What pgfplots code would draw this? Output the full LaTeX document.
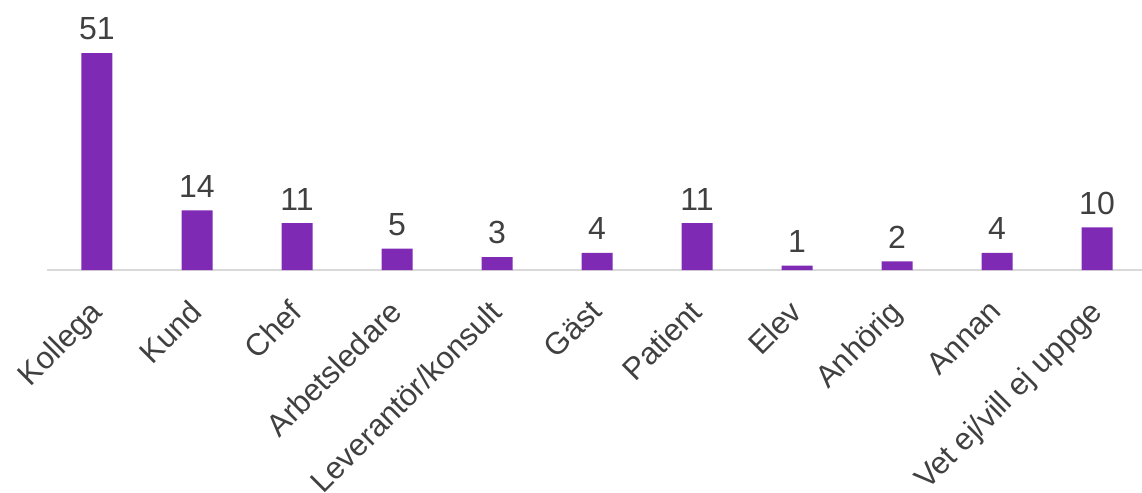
\documentclass[border=0pt]{standalone}
\usepackage{pgfplots}
\pgfplotsset{compat=1.18}
\usepackage{fontspec}
\setmainfont{Liberation Sans}
\definecolor{barc}{HTML}{7F2AB5}
\definecolor{txt}{HTML}{404040}
\definecolor{basec}{HTML}{D9D9D9}
\begin{document}
\begin{tikzpicture}
\begin{axis}[
  scale only axis,
  width=547.5pt, height=134pt,
  xmin=-0.5, xmax=10.45,
  ymin=0, ymax=63,
  axis x line*=bottom,
  hide y axis,
  x axis line style={draw=basec, line width=0.8pt},
  xtick=data,
  xtick style={draw=none},
  /pgf/number format/assume math mode=true,
  xticklabels={Kollega,Kund,Chef,Arbetsledare,Leverantör/konsult,Gäst,Patient,Elev,Anhörig,Annan,Vet ej/vill ej uppge},
  xticklabel style={rotate=45, anchor=north east, font=\fontsize{15.5}{18}\selectfont, text=txt, inner sep=0pt, xshift=-10pt, yshift=-3.6pt},
  ybar, bar width=15.5pt,
  nodes near coords,
  every node near coord/.append style={font=\fontsize{16}{19}\selectfont, text=txt, yshift=3pt},
  clip=false,
]
\addplot[fill=barc, draw=none] coordinates {(0,51) (1,14) (2,11) (3,5) (4,3) (5,4) (6,11) (7,1) (8,2) (9,4) (10,10)};
\end{axis}
\pgfresetboundingbox
\path (-23.5pt,-111.5pt) rectangle (547.5pt,135pt);
\end{tikzpicture}
\end{document}
